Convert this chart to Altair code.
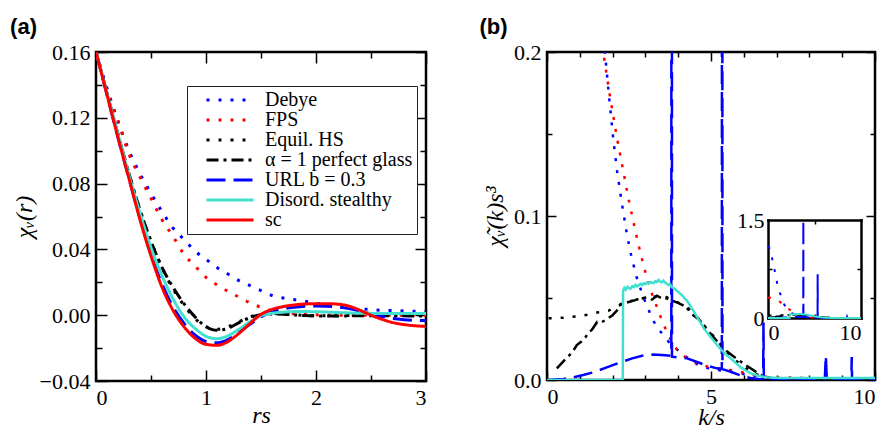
import altair as alt
import pandas as pd

SERIF = "Liberation Serif"
SANS = "Liberation Sans"

SERIES = ["Debye", "FPS", "Equil. HS", "α = 1 perfect glass", "URL b = 0.3",
          "Disord. stealthy", "sc"]
COLORS = ["#0000ff", "#ff0000", "#000000", "#000000", "#0000ff", "#40e0d0", "#ff0000"]
DASHES = [[3, 9], [3, 9], [3, 9], [12, 5, 3, 5], [19, 8], [1, 0], [1, 0]]

# ---------------- panel (a): chi_V(r) ----------------
r_a = [0.0, 0.1, 0.2, 0.3, 0.4, 0.5, 0.6, 0.7, 0.8, 0.9, 1.0, 1.1, 1.2, 1.3, 1.4, 1.5,
       1.6, 1.7, 1.8, 1.9, 2.0, 2.1, 2.2, 2.3, 2.4, 2.5, 2.6, 2.7, 2.8, 2.9, 3.0]
chi_debye = [0.160, 0.138, 0.118, 0.100, 0.086, 0.074, 0.063, 0.053, 0.046, 0.039, 0.034,
             0.029, 0.025, 0.021, 0.018, 0.015, 0.012, 0.0105, 0.0095, 0.0085, 0.0073,
             0.0062, 0.0052, 0.0045, 0.0039, 0.0034, 0.0030, 0.0028, 0.0026, 0.0024, 0.0022]
chi_fps = [0.160, 0.136, 0.118, 0.098, 0.084, 0.071, 0.058, 0.048, 0.037, 0.030, 0.023,
           0.0185, 0.0145, 0.0110, 0.0075, 0.0048, 0.0028, 0.0015, 0.0008, 0.0004, 0.0002,
           0.0001, 0.0, 0.0, 0.0, 0.0, 0.0, 0.0, 0.0, 0.0, 0.0]
chi_hs = [0.160, 0.135, 0.110, 0.086, 0.064, 0.045, 0.029, 0.016, 0.006, -0.002, -0.0070,
          -0.0085, -0.0070, -0.0040, -0.0010, 0.0005, 0.0010, 0.0008, 0.0003, -0.0002,
          -0.0004, -0.0004, -0.0003, -0.0002, -0.0001, 0.0, 0.0, 0.0, 0.0, 0.0, 0.0]
chi_glass = [0.160, 0.135, 0.110, 0.086, 0.064, 0.045, 0.029, 0.017, 0.007, -0.001, -0.0070,
             -0.0092, -0.0080, -0.0045, -0.0015, 0.0003, 0.0008, 0.0006, 0.0002, -0.0002,
             -0.0004, -0.0005, -0.0005, -0.0004, -0.0003, -0.0003, -0.0003, -0.0004,
             -0.0004, -0.0005, -0.0005]
chi_url = [0.160, 0.134, 0.108, 0.083, 0.059, 0.037, 0.019, 0.005, -0.005, -0.0120, -0.0160,
           -0.0168, -0.0148, -0.0105, -0.0055, -0.0010, 0.0020, 0.0038, 0.0048, 0.0054,
           0.0056, 0.0055, 0.0050, 0.0040, 0.0025, 0.0008, -0.0008, -0.0020, -0.0027,
           -0.0031, -0.0033]
chi_stealthy = [0.160, 0.135, 0.110, 0.085, 0.062, 0.041, 0.024, 0.010, -0.001, -0.008,
                -0.0128, -0.0143, -0.0125, -0.0085, -0.0040, -0.0003, 0.0012, 0.0018, 0.0022,
                0.0022, 0.0021, 0.0019, 0.0016, 0.0014, 0.0012, 0.0011, 0.0010, 0.0010,
                0.0010, 0.0010, 0.0010]
chi_sc = [0.160, 0.134, 0.108, 0.083, 0.058, 0.036, 0.017, 0.003, -0.007, -0.0140, -0.0177,
          -0.0183, -0.0160, -0.0110, -0.0050, 0.0005, 0.0035, 0.0052, 0.0062, 0.0068,
          0.0070, 0.0070, 0.0067, 0.0055, 0.0030, 0.0000, -0.0025, -0.0045, -0.0057,
          -0.0064, -0.0068]

# ---------------- panel (b): chi~_V(k) s^3, (k, value) pairs ----------------
b_debye = [(0.0, 1.10), (0.15, 1.07), (0.4, 0.94), (0.55, 0.84), (0.7, 0.74), (0.85, 0.62),
           (1.0, 0.52), (1.15, 0.42), (1.45, 0.33), (1.6, 0.26), (1.77, 0.199), (1.89, 0.173),
           (2.02, 0.147), (2.14, 0.127), (2.28, 0.108), (2.44, 0.0884), (2.57, 0.0756),
           (2.73, 0.0628), (2.94, 0.0504), (3.19, 0.0384), (3.35, 0.032), (3.55, 0.0274),
           (3.75, 0.0222), (4.01, 0.0179), (4.27, 0.0138), (4.62, 0.0091), (4.93, 0.0071),
           (5.3, 0.0058), (5.6, 0.0050), (5.95, 0.0038), (6.4, 0.0022), (6.8, 0.0013),
           (7.2, 0.0011), (7.6, 0.0009), (8.0, 0.0007), (8.5, 0.0006), (9.0, 0.0005),
           (9.5, 0.0004), (10.0, 0.0003)]
b_fps = [(0.0, 0.31), (0.3, 0.31), (0.6, 0.30), (0.9, 0.29), (1.2, 0.26), (1.45, 0.225),
         (1.72, 0.199), (1.92, 0.173), (2.14, 0.147), (2.32, 0.128), (2.51, 0.108),
         (2.71, 0.0894), (2.86, 0.0766), (3.02, 0.064), (3.22, 0.0514), (3.45, 0.0392),
         (3.70, 0.027), (3.88, 0.0213), (4.0, 0.017), (4.35, 0.0122), (4.95, 0.0077),
         (5.58, 0.0061), (5.94, 0.0047), (6.4, 0.0028), (6.8, 0.0016), (7.2, 0.0016),
         (7.56, 0.0014), (8.2, 0.0010), (9.0, 0.0008), (10.0, 0.0005)]
b_hs = [(0.05, 0.0376), (0.5, 0.0380), (0.91, 0.0388), (1.25, 0.0398), (1.57, 0.0413),
        (1.88, 0.0423), (2.18, 0.0453), (2.5, 0.0478), (2.8, 0.0495), (3.1, 0.0503),
        (3.35, 0.0510), (3.6, 0.0500), (3.9, 0.0482), (4.2, 0.0450), (4.5, 0.0392),
        (4.8, 0.0330), (5.1, 0.0262), (5.4, 0.0190), (5.7, 0.0128), (6.0, 0.0080),
        (6.3, 0.0042), (6.6, 0.0018), (7.0, 0.0006), (7.5, 0.0003), (8.0, 0.0002),
        (9.0, 0.0001), (10.0, 0.0001)]
b_glass = [(0.3, 0.0071), (0.52, 0.0118), (0.77, 0.0169), (0.91, 0.0213), (1.05, 0.0235),
           (1.17, 0.026), (1.25, 0.0285), (1.37, 0.0307), (1.53, 0.0354), (1.65, 0.0350),
           (1.83, 0.0372), (2.0, 0.0395), (2.13, 0.0423), (2.24, 0.0463), (2.4, 0.0470),
           (2.64, 0.0484), (2.85, 0.0498), (3.05, 0.0504), (3.2, 0.0490), (3.35, 0.0514),
           (3.5, 0.0498), (3.65, 0.0505), (3.81, 0.0484), (4.0, 0.0470), (4.17, 0.0453),
           (4.3, 0.0440), (4.47, 0.0392), (4.6, 0.0380), (4.78, 0.0331), (5.08, 0.026),
           (5.39, 0.0189), (5.67, 0.0146), (6.1, 0.0085), (6.6, 0.0020), (7.0, 0.0005),
           (8.0, 0.0003), (9.0, 0.0002), (10.0, 0.0002)]
b_url = [(0.0, 0.0), (0.5, 0.0006), (0.8, 0.0016), (1.1, 0.0030), (1.42, 0.0047),
         (1.8, 0.0075), (2.2, 0.0105), (2.6, 0.0132), (2.9, 0.0148), (3.25, 0.0155),
         (3.6, 0.0151), (3.79, 0.0148), (3.8, 2.4), (3.81, 0.0142), (4.0, 0.0138),
         (4.27, 0.0132), (4.6, 0.0108), (4.88, 0.0087), (5.18, 0.0071), (5.33, 0.0067),
         (5.34, 0.67), (5.35, 0.0066), (5.6, 0.0050), (5.9, 0.0028), (6.2, 0.0012),
         (6.45, 0.0006), (6.59, 0.0005), (6.6, 0.035), (6.61, 0.0005), (7.0, 0.0006),
         (7.5, 0.0005), (8.0, 0.0005), (8.47, 0.0005), (8.5, 0.0148), (8.53, 0.0005),
         (9.0, 0.0005), (9.28, 0.0005), (9.29, 0.014), (9.30, 0.0005), (10.0, 0.0005)]
b_stealthy = [(0.0, 0.0), (2.31, 0.0), (2.32, 0.0545), (2.36, 0.0562), (2.4, 0.0551),
              (2.45, 0.0568), (2.5, 0.0560), (2.55, 0.0556), (2.6, 0.0572), (2.65, 0.0566),
              (2.7, 0.0580), (2.75, 0.0571), (2.8, 0.0578), (2.85, 0.0586), (2.9, 0.0579),
              (2.95, 0.0590), (3.0, 0.0584), (3.05, 0.0595), (3.1, 0.0588), (3.15, 0.0598),
              (3.2, 0.0593), (3.25, 0.0590), (3.3, 0.0603), (3.35, 0.0597), (3.4, 0.0610),
              (3.45, 0.0600), (3.5, 0.0596), (3.55, 0.0606), (3.6, 0.0594), (3.65, 0.0588),
              (3.7, 0.0579), (3.75, 0.0584), (3.8, 0.0566), (3.85, 0.0560), (3.9, 0.0556),
              (3.95, 0.0545), (4.0, 0.0538), (4.07, 0.0524), (4.12, 0.0517), (4.2, 0.0496),
              (4.25, 0.0488), (4.37, 0.0453), (4.5, 0.0410), (4.67, 0.0352), (4.8, 0.0310),
              (5.0, 0.0260), (5.2, 0.0210), (5.4, 0.0165), (5.68, 0.0118), (5.9, 0.0078),
              (6.19, 0.0043), (6.45, 0.0025), (6.7, 0.0016), (7.0, 0.0013), (8.0, 0.0012),
              (9.0, 0.0012), (10.0, 0.0012)]
b_sc = []  # simple cubic has only Bragg peaks beyond the plotted range

# tick values
A_X_MAJOR = [0, 1, 2, 3]
A_X_MINOR = [0.5, 1.5, 2.5]
A_Y_MAJOR = [-0.04, 0.0, 0.04, 0.08, 0.12, 0.16]
A_Y_MINOR = [-0.02, 0.02, 0.06, 0.10, 0.14]
B_X_MAJOR = [0, 5, 10]
B_X_MINOR = [1, 2, 3, 4, 6, 7, 8, 9]
B_Y_MAJOR = [0.0, 0.1, 0.2]
B_Y_MINOR = [0.05, 0.15]
INSET_X_LABELS = [0, 10]
INSET_Y_LABELS = [0, 1.5]

# ---------------- tables ----------------
curves_a = [chi_debye, chi_fps, chi_hs, chi_glass, chi_url, chi_stealthy, chi_sc]
rows = []
for name, vals in zip(SERIES, curves_a):
    for r, v in zip(r_a, vals):
        rows.append({"r": r, "chi": v, "series": name})
df_a = pd.DataFrame(rows)

curves_b = [b_debye, b_fps, b_hs, b_glass, b_url, b_stealthy, b_sc]
rows = []
for name, pts in zip(SERIES, curves_b):
    for k, v in pts:
        rows.append({"k": k, "val": v, "series": name})
df_b = pd.DataFrame(rows)

W_A, H_A = 330, 329
W_B, H_B = 328, 328
# inset placement inside panel (b) plot area (pixels)
IN_X0, IN_X1 = 221, 314
IN_Y0, IN_Y1 = 266, 168

color_scale = alt.Scale(domain=SERIES, range=COLORS)
dash_scale = alt.Scale(domain=SERIES, range=DASHES)

legend_a = alt.Legend(orient="none", legendX=91, legendY=34, title=None,
                      strokeColor="#222222", fillColor="white", padding=4,
                      labelFont=SERIF, labelFontSize=20, labelColor="black",
                      symbolType="M-4,0H4", symbolSize=138, symbolStrokeWidth=3,
                      symbolOffset=29, labelOffset=25, rowPadding=0, labelLimit=400)

TICK_COMMON = dict(labels=False, domain=False, grid=False, title=None,
                   tickColor="black", tickWidth=1.5)


def tick_layers(base, xf, yf, xs, ys, xvals, yvals, size, w, h):
    # ticks on bottom/left edges pointing inward
    l1 = base.mark_point(opacity=0, clip=True).encode(
        x=alt.X(xf, scale=xs, axis=alt.Axis(orient="top", offset=-h, values=xvals,
                                              tickSize=size, **TICK_COMMON)),
        y=alt.Y(yf, scale=ys, axis=alt.Axis(orient="right", offset=-w, values=yvals,
                                              tickSize=size, **TICK_COMMON)),
    )
    # ticks on top/right edges pointing inward
    l2 = base.mark_point(opacity=0, clip=True).encode(
        x=alt.X(xf, scale=xs, axis=alt.Axis(orient="bottom", offset=-h, values=xvals,
                                              tickSize=size, **TICK_COMMON)),
        y=alt.Y(yf, scale=ys, axis=alt.Axis(orient="left", offset=-w, values=yvals,
                                              tickSize=size, **TICK_COMMON)),
    )
    return [l1, l2]


# ---------------- panel (a) ----------------
xs_a = alt.Scale(domain=[0, 3], nice=False)
ys_a = alt.Scale(domain=[-0.04, 0.16], nice=False)
base_a = alt.Chart(df_a)

lines_a = base_a.mark_line(strokeWidth=3, interpolate="monotone", clip=True).encode(
    x=alt.X("r:Q", scale=xs_a,
            axis=alt.Axis(orient="bottom", values=A_X_MAJOR, format="d", ticks=False,
                          domain=False, grid=False, labelPadding=6, title="rs",
                          titleFontStyle="italic", titleFontSize=24,
                          titleBaseline="alphabetic", titleY=41)),
    y=alt.Y("chi:Q", scale=ys_a,
            axis=alt.Axis(orient="left", values=A_Y_MAJOR, format=".2f", ticks=False,
                          domain=False, grid=False, labelPadding=6, title="χᵥ(r)",
                          titleFontStyle="italic", titleFontSize=24, titlePadding=3)),
    color=alt.Color("series:N", scale=color_scale, legend=legend_a, sort=SERIES),
    strokeDash=alt.StrokeDash("series:N", scale=dash_scale, legend=legend_a, sort=SERIES),
)

panel_a = alt.layer(
    lines_a,
    *tick_layers(base_a, "r:Q", "chi:Q", xs_a, ys_a, A_X_MAJOR, A_Y_MAJOR, 11, W_A, H_A),
    *tick_layers(base_a, "r:Q", "chi:Q", xs_a, ys_a, A_X_MINOR, A_Y_MINOR, 6, W_A, H_A),
).resolve_axis(x="independent", y="independent").properties(
    width=W_A, height=H_A,
    title=alt.TitleParams("(a)", anchor="start", frame="bounds", font=SANS, fontSize=22,
                          fontWeight="bold", color="black", dx=-2, offset=2),
)

# ---------------- panel (b) ----------------
xs_b = alt.Scale(domain=[0, 10], nice=False)
ys_b = alt.Scale(domain=[0, 0.2], nice=False)
base_b = alt.Chart(df_b)

lines_b = base_b.mark_line(strokeWidth=2.5, clip=True).encode(
    x=alt.X("k:Q", scale=xs_b,
            axis=alt.Axis(orient="bottom", values=B_X_MAJOR, format="d", ticks=False,
                          domain=False, grid=False, labelPadding=6, title="k/s",
                          titleFontStyle="italic", titleFontSize=24,
                          titleBaseline="alphabetic", titleY=44)),
    y=alt.Y("val:Q", scale=ys_b,
            axis=alt.Axis(orient="left", values=B_Y_MAJOR, format=".1f", ticks=False,
                          domain=False, grid=False, labelPadding=6, title="χ̃ᵥ(k)s³",
                          titleFontStyle="italic", titleFontSize=24, titlePadding=6)),
    color=alt.Color("series:N", scale=color_scale, legend=None, sort=SERIES),
    strokeDash=alt.StrokeDash("series:N", scale=dash_scale, legend=None, sort=SERIES),
)

xs_in = alt.Scale(domain=[0, 10], range=[IN_X0, IN_X1], nice=False)
ys_in = alt.Scale(domain=[0, 1.5], range=[IN_Y0, IN_Y1], nice=False, clamp=True)
FRAME = dict(domain=True, domainWidth=2.5, domainColor="black", domainCap="square",
             grid=False, title=None)

inset_lines = base_b.mark_line(strokeWidth=2).encode(
    x=alt.X("k:Q", scale=xs_in,
            axis=alt.Axis(orient="bottom", offset=-(H_B - IN_Y0), values=INSET_X_LABELS,
                          format="d", ticks=False, labelPadding=4, **FRAME)),
    y=alt.Y("val:Q", scale=ys_in,
            axis=alt.Axis(orient="left", offset=-IN_X0, values=INSET_Y_LABELS,
                          format=".1~f", ticks=False, labelPadding=4, **FRAME)),
    color=alt.Color("series:N", scale=color_scale, legend=None, sort=SERIES),
    strokeDash=alt.StrokeDash("series:N", scale=dash_scale, legend=None, sort=SERIES),
)
inset_t1 = base_b.mark_point(opacity=0, clip=True).encode(
    x=alt.X("k:Q", scale=xs_in,
            axis=alt.Axis(orient="top", offset=-IN_Y0, values=[5], tickSize=4,
                          **TICK_COMMON)),
    y=alt.Y("val:Q", scale=ys_in,
            axis=alt.Axis(orient="right", offset=IN_X0 - W_B, values=[0.75], tickSize=4,
                          **TICK_COMMON)),
)
inset_t2 = base_b.mark_point(opacity=0, clip=True).encode(
    x=alt.X("k:Q", scale=xs_in,
            axis=alt.Axis(orient="bottom", offset=IN_Y1 - H_B, values=[5], tickSize=4,
                          labels=False, tickColor="black", tickWidth=1.5, **FRAME)),
    y=alt.Y("val:Q", scale=ys_in,
            axis=alt.Axis(orient="left", offset=-IN_X1, values=[0.75], tickSize=4,
                          labels=False, tickColor="black", tickWidth=1.5, **FRAME)),
)

panel_b = alt.layer(
    lines_b,
    *tick_layers(base_b, "k:Q", "val:Q", xs_b, ys_b, B_X_MAJOR, B_Y_MAJOR, 9, W_B, H_B),
    *tick_layers(base_b, "k:Q", "val:Q", xs_b, ys_b, B_X_MINOR, B_Y_MINOR, 5, W_B, H_B),
    inset_lines, inset_t1, inset_t2,
).resolve_scale(x="independent", y="independent").properties(
    width=W_B, height=H_B,
    title=alt.TitleParams("(b)", anchor="start", frame="bounds", font=SANS, fontSize=22,
                          fontWeight="bold", color="black", dx=-4, offset=2),
)

chart = alt.hconcat(panel_a, panel_b, spacing=50).resolve_scale(
    color="independent", strokeDash="independent"
).properties(
    padding={"left": 0, "top": 6, "right": 0, "bottom": 0}
).configure_view(
    stroke="black", strokeWidth=2.5
).configure_axis(
    labelFont=SERIF, labelFontSize=22, labelColor="black",
    titleFont=SERIF, titleColor="black", titleFontWeight="normal",
)

chart.save("out.html", embed_options={"renderer": "svg", "actions": False})
